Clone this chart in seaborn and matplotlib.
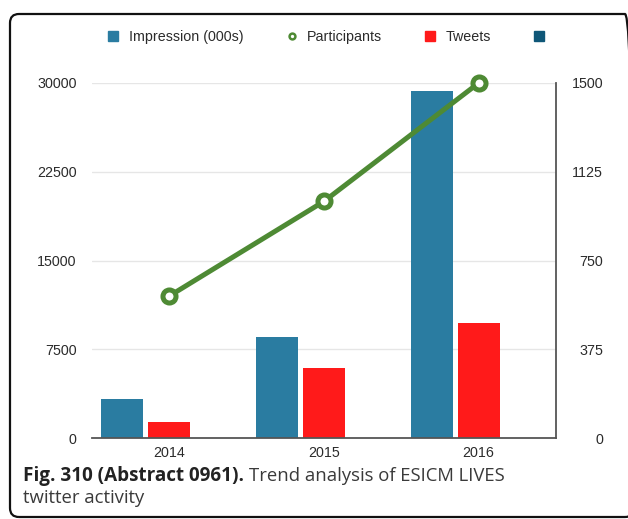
"""
ESICM LIVES twitter activity - bars for impressions/tweets, line for participants.
"""
import pandas as pd
import matplotlib
matplotlib.use("Agg")
import matplotlib.pyplot as plt
from matplotlib.lines import Line2D
from matplotlib.patches import FancyBboxPatch
from matplotlib.transforms import IdentityTransform
import seaborn as sns

sns.set_theme(style="white")
plt.rcParams["font.family"] = ["Liberation Sans", "DejaVu Sans"]

# ---------- data ----------
years = ["2014", "2015", "2016"]
impressions = [3320, 8500, 29350]
tweets = [1350, 5950, 9720]
participants = [600, 1000, 1500]

left_ticks = [0, 7500, 15000, 22500, 30000]
right_ticks = [0, 375, 750, 1125, 1500]

C_IMPR = "#2a7ca1"
C_TWEET = "#ff1a1a"
C_PART = "#4e8a34"
C_EXTRA = "#0f5778"
TXT = "#2b2b2b"

series_order = ["Impression (000s)", "Tweets", "extra"]
df = pd.DataFrame({
    "year": years * 3,
    "series": ["Impression (000s)"] * 3 + ["Tweets"] * 3 + ["extra"] * 3,
    "value": impressions + tweets + [0, 0, 0],
})

fig = plt.figure(figsize=(6.28, 5.19), dpi=100)
ax = fig.add_axes([92 / 628, 81 / 519, 464 / 628, 355 / 519])

sns.barplot(data=df, x="year", y="value", hue="series", hue_order=series_order,
            palette=[C_IMPR, C_TWEET, C_EXTRA], width=0.91, gap=0.106,
            saturation=1, linewidth=0, legend=False, ax=ax)
ax.set_xlim(-0.5, 2.5)
ax.set_ylim(0, 30000)
ax.set_yticks(left_ticks)
ax.set_yticklabels([str(t) for t in left_ticks])
ax.set_xlabel("")
ax.set_ylabel("")
ax.yaxis.grid(True, color="#e6e6e6", linewidth=1)
ax.set_axisbelow(True)
ax.tick_params(axis="y", length=0, pad=11, labelsize=10.3, labelcolor=TXT)
ax.tick_params(axis="x", length=0, pad=6, labelsize=10.3, labelcolor=TXT)
for s in ["left", "top", "right"]:
    ax.spines[s].set_visible(False)
ax.spines["bottom"].set_color("#555555")
ax.spines["bottom"].set_linewidth(1.3)

# ---------- participants on right axis ----------
ax2 = ax.twinx()
sns.lineplot(x=[0, 1, 2], y=participants, ax=ax2, color=C_PART, linewidth=3.6,
             marker="o", markersize=9.4, markeredgewidth=3.6,
             markerfacecolor="white", markeredgecolor=C_PART, clip_on=False)
ax2.set_ylim(0, 1500)
ax2.set_yticks(right_ticks)
ax2.set_yticklabels([str(t) for t in right_ticks], ha="right")
ax2.tick_params(axis="y", length=0, pad=34, labelsize=10.3, labelcolor=TXT)
ax2.grid(False)
for s in ["left", "top", "bottom"]:
    ax2.spines[s].set_visible(False)
ax2.spines["right"].set_color("#555555")
ax2.spines["right"].set_linewidth(1.3)

# ---------- legend ----------
handles = [
    Line2D([], [], marker="s", linestyle="none", markersize=7.6, color=C_IMPR),
    Line2D([], [], marker="o", linestyle="none", markersize=4.2, markeredgewidth=1.8,
           markerfacecolor="white", markeredgecolor=C_PART),
    Line2D([], [], marker="s", linestyle="none", markersize=7.6, color=C_TWEET),
    Line2D([], [], marker="s", linestyle="none", markersize=7.6, color=C_EXTRA),
]
labels = ["Impression (000s)", "Participants", "Tweets", ""]
fig.legend(handles, labels, loc="center left", bbox_to_anchor=(108 / 628, 1 - 37 / 519),
           ncol=4, frameon=False, fontsize=10.3, handlelength=0.75, handletextpad=0.7,
           columnspacing=3.0, borderpad=0, borderaxespad=0, labelcolor=TXT)

# ---------- caption ----------
cap_y = 1 - 481 / 519
t1 = fig.text(23 / 628, cap_y, "Fig. 310 (Abstract 0961).", family="Open Sans",
              fontweight="bold", fontsize=13.6, color="#222222", va="baseline")
fig.canvas.draw()
bb = t1.get_window_extent()
fig.text((bb.x1 + 5) / 628, cap_y, "Trend analysis of ESICM LIVES", family="Open Sans",
         fontsize=13.3, color="#3a3a3a", va="baseline")
fig.text(23 / 628, 1 - 503 / 519, "twitter activity", family="Open Sans",
         fontsize=13.3, color="#3a3a3a", va="baseline")

# ---------- rounded frame ----------
frame = FancyBboxPatch((10, 2), 624, 503, boxstyle="round,pad=0,rounding_size=9",
                       transform=IdentityTransform(), facecolor="none",
                       edgecolor="#111111", linewidth=1.6)
fig.add_artist(frame)

fig.savefig("out.png", dpi=100)
